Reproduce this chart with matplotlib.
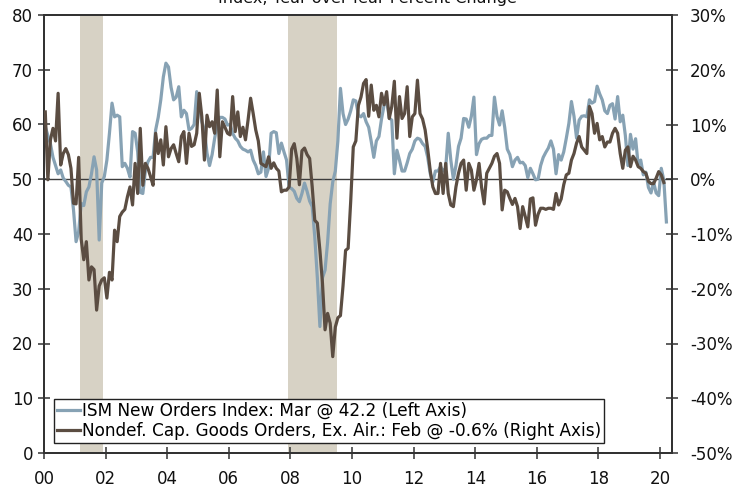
import numpy as np
import matplotlib
matplotlib.use("Agg")
import matplotlib.pyplot as plt
from matplotlib.ticker import FuncFormatter, FixedLocator

plt.rcParams['font.family'] = ['DejaVu Sans']

# ISM New Orders Index (monthly, Jan 2000 - Mar 2020), left axis
ism_2000 = [59.6, 58.0, 56.5, 54.0, 52.5, 51.0, 51.7, 50.2, 49.6, 48.9, 48.6, 44.4]
ism_2001 = [38.6, 40.4, 45.6, 45.2, 47.7, 48.6, 51.0, 54.1, 51.7, 38.9, 49.3, 50.5]
ism_2002 = [53.5, 58.4, 63.9, 61.4, 61.7, 61.4, 52.3, 52.9, 52.0, 50.4, 58.7, 58.4]
ism_2003 = [55.0, 47.6, 47.4, 51.5, 53.2, 54.0, 54.0, 59.0, 61.3, 64.5, 68.7, 71.2]
ism_2004 = [70.5, 66.8, 64.5, 65.0, 66.9, 61.4, 62.6, 62.0, 59.0, 59.3, 60.0, 66.0]
ism_2005 = [63.5, 60.5, 59.0, 54.8, 52.5, 54.5, 57.5, 60.0, 61.3, 61.3, 61.0, 59.9]
ism_2006 = [60.0, 58.4, 57.5, 57.0, 56.0, 55.5, 55.3, 55.0, 55.3, 53.5, 52.5, 51.0]
ism_2007 = [51.3, 55.0, 50.5, 52.0, 58.4, 58.7, 58.5, 54.7, 56.6, 55.0, 53.5, 48.5]
ism_2008 = [48.3, 47.8, 46.5, 45.9, 47.4, 49.3, 47.8, 46.0, 45.0, 39.5, 32.0, 23.1]
ism_2009 = [32.0, 33.4, 38.5, 45.5, 49.5, 51.5, 57.0, 66.6, 62.0, 60.0, 61.0, 62.5]
ism_2010 = [64.5, 64.3, 61.7, 61.4, 62.0, 60.5, 59.5, 56.9, 54.0, 57.0, 57.8, 61.0]
ism_2011 = [63.5, 64.5, 61.2, 60.8, 51.0, 55.3, 53.5, 51.5, 51.5, 53.0, 54.7, 55.5]
ism_2012 = [57.0, 57.5, 57.3, 56.5, 56.0, 54.0, 51.0, 49.5, 51.5, 51.5, 52.3, 51.5]
ism_2013 = [52.0, 58.4, 53.5, 50.0, 52.5, 56.0, 57.5, 61.1, 61.0, 59.5, 61.5, 65.0]
ism_2014 = [54.5, 56.5, 57.3, 57.5, 57.5, 58.0, 58.0, 65.0, 61.5, 59.9, 62.5, 59.5]
ism_2015 = [55.5, 54.5, 52.3, 53.5, 54.0, 53.0, 53.1, 52.5, 50.3, 52.0, 51.0, 49.9]
ism_2016 = [50.0, 52.5, 54.0, 54.9, 55.7, 57.0, 55.5, 51.0, 54.5, 53.5, 55.0, 57.5]
ism_2017 = [60.2, 64.2, 61.5, 57.5, 60.8, 61.5, 61.6, 61.4, 64.5, 63.9, 64.2, 67.0]
ism_2018 = [65.6, 64.5, 62.5, 62.0, 63.5, 63.8, 61.0, 65.1, 60.5, 61.7, 58.0, 52.5]
ism_2019 = [58.2, 55.5, 57.4, 52.6, 53.5, 50.8, 51.3, 48.5, 47.5, 49.5, 47.5, 47.0]
ism_2020 = [52.0, 49.8, 42.2]

# Nondefense capital goods orders ex aircraft, YoY % (Jan 2000 - Feb 2020), right axis
cap_2000 = [12.3, -0.1, 7.2, 9.3, 7.0, 15.7, 2.6, 4.7, 5.6, 4.5, 2.0, -4.4]
cap_2001 = [-4.5, 4.0, -11.0, -14.7, -11.4, -18.4, -16.0, -16.5, -23.9, -19.5, -18.4, -18.0]
cap_2002 = [-21.7, -17.0, -18.4, -9.3, -11.4, -6.8, -6.0, -5.5, -3.2, -1.4, -4.7, 2.9]
cap_2003 = [-2.6, 9.3, -1.1, 2.9, 2.0, 0.5, -1.1, 8.4, 4.7, 7.2, 2.6, 9.6]
cap_2004 = [4.1, 5.6, 6.3, 4.7, 3.2, 7.8, 8.7, 2.9, 8.4, 6.0, 6.3, 8.4]
cap_2005 = [15.7, 11.4, 3.5, 11.7, 9.6, 10.5, 8.4, 16.3, 4.1, 10.5, 9.5, 8.4]
cap_2006 = [8.1, 15.1, 8.7, 12.3, 7.8, 9.5, 7.2, 10.8, 14.8, 12.0, 9.0, 7.0]
cap_2007 = [2.9, 2.6, 2.3, 4.1, 2.0, 3.0, 2.0, 1.5, -2.3, -2.0, -2.0, -1.4]
cap_2008 = [5.5, 6.5, 3.8, -1.0, 5.2, 5.7, 4.5, 3.8, -1.4, -7.5, -8.0, -13.0]
cap_2009 = [-19.0, -27.5, -24.5, -26.3, -32.4, -27.0, -25.3, -24.9, -19.5, -13.0, -12.6, -4.0]
cap_2010 = [5.9, 7.0, 13.5, 15.0, 17.5, 18.2, 11.5, 17.2, 12.6, 13.5, 11.4, 15.7]
cap_2011 = [13.6, 16.0, 11.1, 13.3, 17.9, 7.5, 15.1, 11.1, 12.0, 16.9, 7.8, 11.4]
cap_2012 = [12.0, 18.1, 12.0, 11.0, 9.0, 5.5, 1.5, -1.4, -2.6, -2.6, 2.9, -2.6]
cap_2013 = [2.9, -2.6, -4.7, -5.0, -1.4, 1.1, 2.9, 3.5, -2.0, 2.9, 1.7, -2.0]
cap_2014 = [-0.1, 2.9, -1.5, -4.5, 1.1, 2.0, 2.9, 4.2, 4.7, 2.9, -5.6, -2.0]
cap_2015 = [-2.3, -3.5, -4.6, -3.5, -5.0, -9.0, -5.0, -6.8, -8.7, -3.6, -3.4, -8.4]
cap_2016 = [-6.4, -5.3, -5.3, -5.5, -5.3, -5.3, -5.5, -2.6, -4.7, -3.6, -1.0, 0.8]
cap_2017 = [1.1, 3.5, 4.7, 6.6, 7.8, 5.9, 5.3, 4.7, 13.3, 12.0, 8.4, 10.2]
cap_2018 = [7.2, 7.8, 5.9, 6.8, 6.8, 8.4, 9.3, 8.4, 4.7, 2.0, 5.3, 5.9]
cap_2019 = [2.3, 4.2, 3.5, 2.3, 2.0, 1.4, 1.1, -0.4, -0.8, -0.8, 0.2, 1.4]
cap_2020 = [0.8, -0.6]

# Recessions (decimal years)
rec_start = [2001 + 2 / 12, 2007 + 11 / 12]
rec_end = [2001 + 11 / 12, 2009 + 6 / 12]

left_ticks = [0, 10, 20, 30, 40, 50, 60, 70, 80]
right_ticks = [-50, -40, -30, -20, -10, 0, 10, 20, 30]
x_tick_years = [2000, 2002, 2004, 2006, 2008, 2010, 2012, 2014, 2016, 2018, 2020]
x_tick_labels = ['00', '02', '04', '06', '08', '10', '12', '14', '16', '18', '20']

ism = np.array(ism_2000 + ism_2001 + ism_2002 + ism_2003 + ism_2004 + ism_2005 +
               ism_2006 + ism_2007 + ism_2008 + ism_2009 + ism_2010 + ism_2011 +
               ism_2012 + ism_2013 + ism_2014 + ism_2015 + ism_2016 + ism_2017 +
               ism_2018 + ism_2019 + ism_2020)
cap = np.array(cap_2000 + cap_2001 + cap_2002 + cap_2003 + cap_2004 + cap_2005 +
               cap_2006 + cap_2007 + cap_2008 + cap_2009 + cap_2010 + cap_2011 +
               cap_2012 + cap_2013 + cap_2014 + cap_2015 + cap_2016 + cap_2017 +
               cap_2018 + cap_2019 + cap_2020)

t_ism = 2000 + (np.arange(len(ism)) + 0.5) / 12
t_cap = 2000 + (np.arange(len(cap)) + 0.5) / 12

BLUE = '#87A2B4'
BROWN = '#5B4D42'
SHADE = '#D7D2C5'
AXC = '#333333'

W, H = 735, 487
fig = plt.figure(figsize=(W / 100, H / 100), dpi=100)
ax = fig.add_axes([44 / W, 1 - 453 / H, 628 / W, 438 / H])
ax2 = ax.twinx()

for s, e in zip(rec_start, rec_end):
    ax.axvspan(s, e, color=SHADE, lw=0, zorder=0)
ax.axhline(50, color='#3c3c3c', lw=1.0, zorder=1)

l1, = ax.plot(t_ism, ism, color=BLUE, lw=2.3, zorder=3, solid_joinstyle='round')
l2, = ax2.plot(t_cap, cap, color=BROWN, lw=2.3, zorder=3, solid_joinstyle='round')

ax.set_xlim(2000, 2020.39)
ax.set_ylim(0, 80)
ax2.set_ylim(-50, 30)

ax.yaxis.set_major_locator(FixedLocator(left_ticks))
ax2.yaxis.set_major_locator(FixedLocator(right_ticks))
ax2.yaxis.set_major_formatter(FuncFormatter(lambda v, p: f"{int(round(v))}%"))
ax.set_xticks(x_tick_years)
ax.set_xticklabels(x_tick_labels)

for a in (ax, ax2):
    for sp in a.spines.values():
        sp.set_color(AXC)
        sp.set_linewidth(1.4)

ax.tick_params(axis='y', direction='inout', length=8, width=1.1, pad=4,
               labelsize=12, color=AXC, labelcolor='#111111')
ax.tick_params(axis='x', direction='inout', length=8, width=1.1, pad=8,
               labelsize=12, color=AXC, labelcolor='#111111')
ax2.tick_params(axis='y', direction='inout', length=8, width=1.1, pad=9,
                labelsize=12, color=AXC, labelcolor='#111111')

leg = ax2.legend([l1, l2],
                 ['ISM New Orders Index: Mar @ 42.2 (Left Axis)',
                  'Nondef. Cap. Goods Orders, Ex. Air.: Feb @ -0.6% (Right Axis)'],
                 loc='lower left', bbox_to_anchor=(10 / 628, 10 / 438),
                 borderaxespad=0, fontsize=12.2, frameon=True, fancybox=False,
                 edgecolor='#222222', handlelength=1.35, handletextpad=0.12,
                 borderpad=0.18, labelspacing=0.12, framealpha=1)
leg.get_frame().set_linewidth(1.0)

fig.text(0.5, 1 - 3.5 / H, 'Index, Year-over-Year Percent Change',
         ha='center', va='baseline', fontsize=11.5, color='#111111')

fig.savefig('out.png', dpi=100)
